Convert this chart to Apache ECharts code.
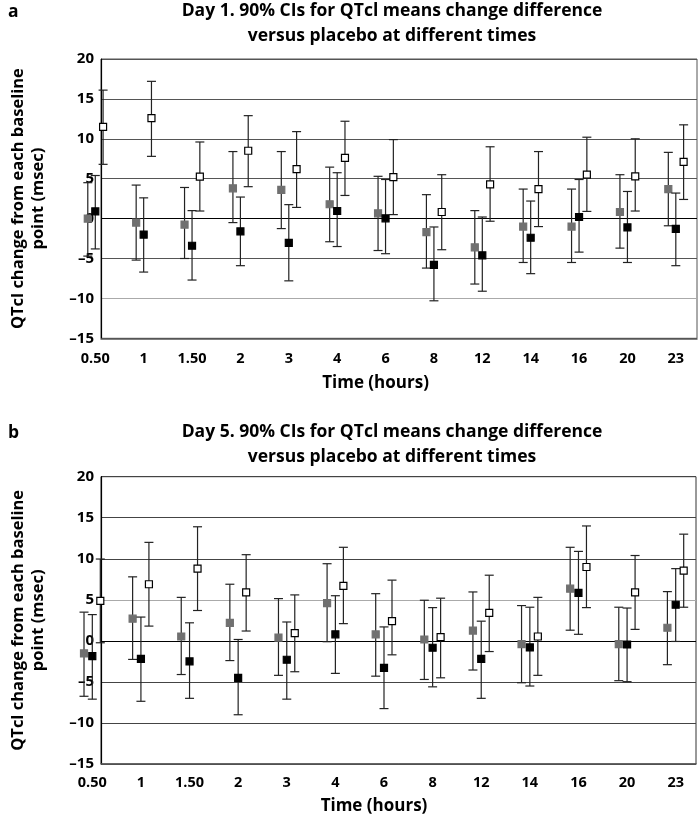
<!DOCTYPE html>
<html>
<head>
<meta charset="utf-8">
<script src="https://cdn.jsdelivr.net/npm/echarts@6/dist/echarts.min.js"></script>
<style>
  html, body { margin: 0; padding: 0; background: #fff; }
  #chart { width: 700px; height: 819px; }
</style>
</head>
<body>
<div id="chart"></div>
<script>
// ---------- data ----------
const categories = ['0.50', '1', '1.50', '2', '3', '4', '6', '8', '12', '14', '16', '20', '23'];
const yTicks = [-15, -10, -5, 0, 5, 10, 15, 20];

// Day 1 (panel a): mean, lower, upper of 90% CI
const day1GreyMean  = [0, -0.5, -0.75, 3.8, 3.6, 1.8, 0.66, -1.7, -3.6, -1.0, -1.0, 0.83, 3.7];
const day1GreyLow   = [-4.7, -5.2, -5.0, -0.5, -1.25, -2.9, -4.0, -6.2, -8.2, -5.5, -5.5, -3.7, -0.9];
const day1GreyHigh  = [4.5, 4.2, 3.9, 8.4, 8.4, 6.45, 5.3, 3.0, 1.0, 3.7, 3.7, 5.5, 8.3];

const day1BlackMean = [0.9, -2.0, -3.4, -1.6, -3.05, 0.95, 0.04, -5.8, -4.6, -2.4, 0.2, -1.1, -1.3];
const day1BlackLow  = [-3.8, -6.7, -7.7, -5.9, -7.8, -3.5, -4.4, -10.3, -9.1, -6.9, -4.2, -5.5, -5.9];
const day1BlackHigh = [5.4, 2.6, 1.0, 2.7, 1.75, 5.75, 4.9, -1.05, 0.2, 2.2, 4.9, 3.4, 3.2];

const day1WhiteMean = [11.5, 12.6, 5.25, 8.5, 6.2, 7.6, 5.2, 0.83, 4.3, 3.7, 5.5, 5.3, 7.1];
const day1WhiteLow  = [6.8, 7.8, 0.95, 4.0, 1.4, 2.9, 0.5, -3.9, -0.33, -1.0, 0.9, 0.95, 2.4];
const day1WhiteHigh = [16.1, 17.2, 9.6, 12.9, 10.9, 12.2, 9.9, 5.5, 9.0, 8.4, 10.2, 10.0, 11.75];

// Day 5 (panel b)
const day5GreyMean  = [-1.53, 2.7, 0.53, 2.2, 0.4, 4.6, 0.78, 0.17, 1.26, -0.4, 6.36, -0.4, 1.6];
const day5GreyLow   = [-6.75, -2.26, -4.1, -2.4, -4.2, -0.1, -4.3, -4.7, -3.55, -5.1, 1.3, -4.85, -2.9];
const day5GreyHigh  = [3.5, 7.8, 5.3, 6.9, 5.15, 9.4, 5.75, 4.95, 5.96, 4.3, 11.4, 4.1, 6.0];

const day5BlackMean = [-1.85, -2.2, -2.5, -4.5, -2.3, 0.8, -3.3, -0.84, -2.2, -0.8, 5.84, -0.44, 4.4];
const day5BlackLow  = [-7.1, -7.36, -7.0, -9.0, -7.1, -3.96, -8.25, -5.6, -7.0, -5.5, 0.8, -4.97, -0.07];
const day5BlackHigh = [3.2, 2.9, 2.2, 0.17, 2.3, 5.5, 1.7, 4.05, 2.4, 4.1, 10.9, 4.0, 8.8];

const day5WhiteMean = [4.87, 6.9, 8.8, 5.9, 0.94, 6.7, 2.4, 0.45, 3.4, 0.53, 9.0, 5.9, 8.55];
const day5WhiteLow  = [-0.23, 1.8, 3.7, 1.2, -3.76, 2.1, -1.7, -4.5, -1.3, -4.2, 4.05, 1.4, 4.1];
const day5WhiteHigh = [9.97, 12.0, 13.9, 10.5, 5.6, 11.4, 7.4, 5.2, 8.0, 5.3, 14.0, 10.4, 13.0];

const titleA = 'Day 1. 90% CIs for QTcl means change difference\nversus placebo at different times';
const titleB = 'Day 5. 90% CIs for QTcl means change difference\nversus placebo at different times';

// ---------- chart ----------
const FONT = '"Open Sans"';
function rows(mean, low, high) {
  return categories.map((c, i) => [i, mean[i], low[i], high[i]]);
}
function ciRenderer(offset, fill, stroke) {
  return function (params, api) {
    const i = api.value(0);
    const pm = api.coord([i, api.value(1)]);
    const pl = api.coord([i, api.value(2)]);
    const ph = api.coord([i, api.value(3)]);
    const x = pm[0] + offset;
    const cap = 4.5, s = 7;
    const ls = { stroke: '#222', lineWidth: 1.2 };
    return {
      type: 'group',
      children: [
        { type: 'line', shape: { x1: x, y1: ph[1], x2: x, y2: pl[1] }, style: ls },
        { type: 'line', shape: { x1: x - cap, y1: ph[1], x2: x + cap, y2: ph[1] }, style: ls },
        { type: 'line', shape: { x1: x - cap, y1: pl[1], x2: x + cap, y2: pl[1] }, style: ls },
        { type: 'rect', shape: { x: x - s / 2, y: pm[1] - s / 2, width: s, height: s },
          style: { fill: fill, stroke: stroke, lineWidth: 1.2 } }
      ]
    };
  };
}
function ciSeries(name, axisIdx, data, offset, fill, stroke) {
  return {
    type: 'custom', name: name,
    xAxisIndex: axisIdx, yAxisIndex: axisIdx,
    renderItem: ciRenderer(offset, fill, stroke),
    encode: { x: 0, y: [1, 2, 3] },
    data: data, clip: false, z: 5
  };
}
const negFmt = v => (v < 0 ? '\u2013' + Math.abs(v) : String(v));

function boxY(gridIndex, lineColors) {
  return {
    gridIndex: gridIndex, type: 'value', min: yTicks[0], max: yTicks[yTicks.length - 1], interval: 5,
    axisLine: { show: true, lineStyle: { color: '#000', width: 1.2 } },
    axisTick: { show: false },
    axisLabel: { formatter: negFmt, fontFamily: FONT, fontWeight: 'bold', fontSize: 15, color: '#000', margin: 7 },
    splitLine: { show: true, lineStyle: { color: lineColors, width: 1.2 } },
    name: 'QTcl change from each baseline\npoint (msec)',
    nameLocation: 'middle', nameRotate: 90, nameGap: 53,
    nameTextStyle: { fontFamily: FONT, fontWeight: 'bold', fontSize: 16.5, color: '#000', lineHeight: 20 }
  };
}
function dataY(gridIndex) {
  return { gridIndex: gridIndex, type: 'value', min: yTicks[0], max: yTicks[yTicks.length - 1], interval: 5, show: false };
}
function boxX(gridIndex) {
  return {
    gridIndex: gridIndex, type: 'value', min: 0, max: 1,
    axisLine: { show: true, onZero: false, lineStyle: { color: '#555', width: 1.5 } },
    axisTick: { show: false }, axisLabel: { show: false }, splitLine: { show: false }
  };
}
function dataX(gridIndex, margin, nameGap) {
  return {
    gridIndex: gridIndex, type: 'category', data: categories, boundaryGap: true,
    axisLine: { show: false }, axisTick: { show: false }, splitLine: { show: false },
    axisLabel: { fontFamily: FONT, fontWeight: 'bold', fontSize: 14.5, color: '#000', margin: margin, interval: 0 },
    name: 'Time (hours)', nameLocation: 'middle', nameGap: nameGap,
    nameTextStyle: { fontFamily: FONT, fontWeight: 'bold', fontSize: 17, color: '#000', padding: [0, 20, 0, 0] }
  };
}
function titleText(text, x, y, align) {
  return {
    type: 'text', x: x, y: y, silent: true,
    style: { text: text, align: align, verticalAlign: 'top', fontFamily: 'Open Sans', fontWeight: 'bold',
             fontSize: 17.5, lineHeight: 25, fill: '#000' }
  };
}

const chart = echarts.init(document.getElementById('chart'), null, { renderer: 'canvas' });
chart.setOption({
  animation: false,
  backgroundColor: '#fff',
  graphic: [
    titleText('a', 8, 0, 'left'),
    titleText(titleA, 392, -1, 'center'),
    titleText('b', 8, 421, 'left'),
    titleText(titleB, 392, 420, 'center')
  ],
  grid: [
    { left: 83.3, top: 59, width: 613.7, height: 279.3, show: true, borderColor: '#555', borderWidth: 1, backgroundColor: 'transparent' },
    { left: 71.1, top: 59, width: 640.5, height: 279.3 },
    { left: 81, top: 476.7, width: 615, height: 287.3, show: true, borderColor: '#333', borderWidth: 1, backgroundColor: 'transparent' },
    { left: 68, top: 476.7, width: 641.3, height: 287.3 }
  ],
  xAxis: [boxX(0), dataX(1, 13, 36), boxX(2), dataX(3, 11, 34)],
  yAxis: [
    boxY(0, ['#555', '#aaa', '#555', '#000', '#555', '#555', '#555', '#555']),
    dataY(1),
    boxY(2, ['#444', '#444', '#444', '#000', '#aaa', '#444', '#444', '#444']),
    dataY(3)
  ],
  series: [
    ciSeries('Day 1 grey', 1, rows(day1GreyMean, day1GreyLow, day1GreyHigh), -7.5, '#707070', '#707070'),
    ciSeries('Day 1 black', 1, rows(day1BlackMean, day1BlackLow, day1BlackHigh), 0, '#000', '#000'),
    ciSeries('Day 1 white', 1, rows(day1WhiteMean, day1WhiteLow, day1WhiteHigh), 7.8, '#fff', '#000'),
    ciSeries('Day 5 grey', 3, rows(day5GreyMean, day5GreyLow, day5GreyHigh), -8.3, '#707070', '#707070'),
    ciSeries('Day 5 black', 3, rows(day5BlackMean, day5BlackLow, day5BlackHigh), 0, '#000', '#000'),
    ciSeries('Day 5 white', 3, rows(day5WhiteMean, day5WhiteLow, day5WhiteHigh), 8.0, '#fff', '#000')
  ]
});
</script>
</body>
</html>
